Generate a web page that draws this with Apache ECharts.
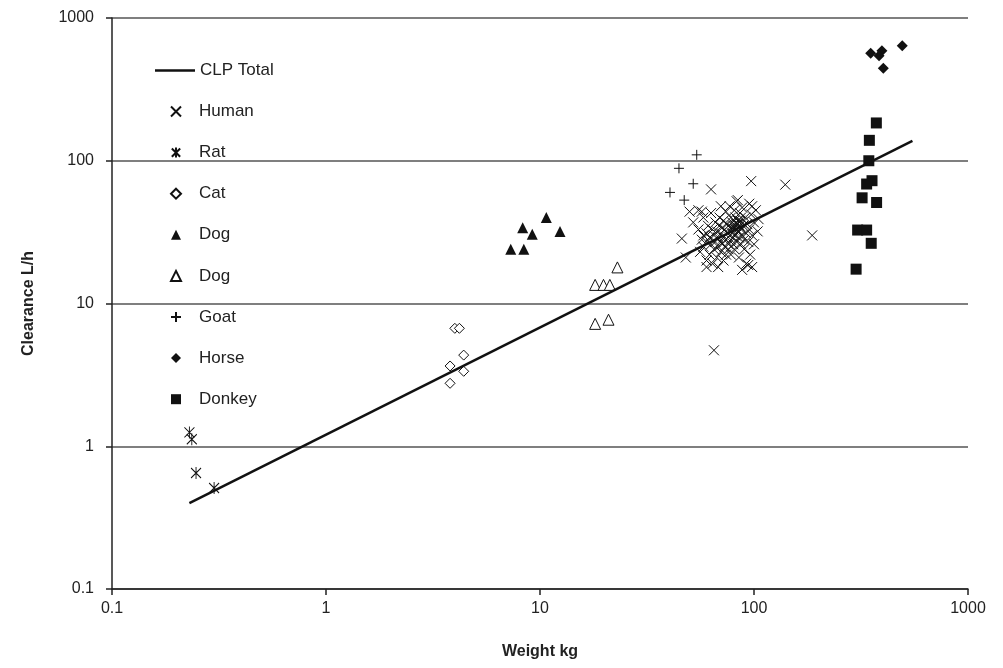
<!DOCTYPE html>
<html>
<head>
<meta charset="utf-8">
<script src="https://cdn.jsdelivr.net/npm/echarts@6/dist/echarts.min.js"></script>
<style>
html,body{margin:0;padding:0;background:#fff;}
#chart{width:1003px;height:668px;}
</style>
</head>
<body>
<div id="chart"></div>
<script>
// ---- data: [weight kg, clearance L/h] ----
var clpTotal = [[0.23, 0.40], [550, 138]];
var human = [
  [46,28.5],[48,21],[50,44],[52,37],[55,45],[58,30],[63,63],[97,72],[140,68],[187,30],[65,4.7],
  [55,33],[57,28],[58,25],[60,27],[60,31],[61,35],[62,22],[62,29],[63,26],[64,33],[64,19],
  [65,24],[65,30],[66,37],[66,27],[67,21],[67,32],[68,25],[68,29],[69,35],[69,40],[70,23],
  [70,27],[70,31],[71,26],[71,34],[72,20],[72,29],[72,38],[73,25],[73,33],[74,22],[74,28],
  [74,44],[75,31],[75,36],[76,26],[76,24],[77,30],[77,34],[77,48],[78,28],[78,22],[78,40],
  [79,31],[79,37],[80,26],[80,33],[80,29],[81,45],[81,24],[82,35],[82,30],[82,40],[83,27],
  [83,52],[84,32],[84,36],[85,21],[85,29],[86,38],[86,43],[87,26],[87,33],[88,30],[88,47],
  [89,35],[90,24],[90,28],[91,40],[92,31],[92,19],[93,36],[94,27],[95,50],[95,33],[96,22],
  [97,42],[98,30],[98,18],[100,37],[100,26],[102,45],[104,32],[105,39],[60,20],[68,18],
  [58,40],[63,43],[56,23],[88,17.2],[94,18.6],[60,18],[84,53],[70,48],[57,44],[98,48],
  [80,35],[82,33],[84,38],[86,35],[85,32],[83,36],[88,37],[87,40],[81,38],[79,34]
];
var rat = [[0.23,1.25],[0.236,1.12],[0.247,0.65],[0.30,0.51]];
var cat = [[4.0,6.7],[4.2,6.7],[4.4,4.35],[3.8,3.65],[4.4,3.35],[3.8,2.76]];
var dogFilled = [[7.3,24],[8.4,24],[8.3,34],[9.2,30.5],[10.7,40],[12.4,32]];
var dogOpen = [[18.1,13.5],[19.8,13.5],[21.2,13.5],[23.0,17.9],[18.1,7.2],[20.9,7.7]];
var goat = [[54,110],[44.6,88.5],[52,69],[40.5,60],[47.2,53]];
var horse = [[351,566],[396,590],[384,545],[402,444],[493,640]];
var donkey = [[373,184],[346,139],[344,100],[356,72.5],[336,68.7],[320,55],[374,51],
  [305,32.7],[336,32.7],[353,26.4],[300,17.4]];
var tickLabels = ['0.1','1','10','100','1000'];
var markerNames = ['Human','Rat','Cat','Dog','Dog ','Goat','Horse','Donkey'];

var FONT = '"Liberation Sans", Arial, Helvetica, sans-serif';
var crossPath = 'path://M0,0L10,10M10,0L0,10';
var starPath = 'path://M0,0L10,10M10,0L0,10M5,-1L5,11';
var plusPath = 'path://M5,0L5,10M0,5L10,5';

function fmt(v){
  for (var i=0;i<tickLabels.length;i++){ if (Math.abs(Math.log10(v) - (i-1)) < 1e-6) return tickLabels[i]; }
  return '';
}

var chart = echarts.init(document.getElementById('chart'), null, {renderer:'canvas'});
var strokeStyle = {color:'transparent', borderColor:'#111', borderWidth:1, opacity:1};
var openStyle = {color:'#fff', borderColor:'#111', borderWidth:1, opacity:1};
var fillStyle = {color:'#111', opacity:1};
var legendText = {fontSize:17, color:'#222', fontFamily:FONT};

chart.setOption({
  animation:false,
  backgroundColor:'#fff',
  textStyle:{fontFamily:FONT},
  grid:{left:112, right:35, top:18, bottom:79},
  legend:[
    {
      left:150, top:57, orient:'vertical',
      itemWidth:40, itemHeight:2.5,
      textStyle:legendText,
      data:[{name:'CLP Total', icon:'rect'}]
    },
    {
      left:165, top:98, orient:'vertical',
      itemWidth:10, itemHeight:10, itemGap:24.1,
      textStyle:{fontSize:17, color:'#222', fontFamily:FONT, padding:[0,0,0,13]},
      data:markerNames
    }
  ],
  xAxis:{
    type:'log', logBase:10, min:0.1, max:1000,
    name:'Weight kg', nameLocation:'middle', nameGap:55,
    nameTextStyle:{fontSize:16, fontWeight:'bold', color:'#222', fontFamily:FONT},
    axisLine:{show:true, lineStyle:{color:'#222', width:1.5}},
    axisTick:{show:true, length:6, lineStyle:{color:'#222', width:1.5}},
    axisLabel:{fontSize:16, color:'#222', margin:12, formatter:fmt, fontFamily:FONT},
    splitLine:{show:false}, minorTick:{show:false}
  },
  yAxis:{
    type:'log', logBase:10, min:0.1, max:1000,
    name:'Clearance L/h', nameLocation:'middle', nameGap:75, nameRotate:90,
    nameTextStyle:{fontSize:16, fontWeight:'bold', color:'#222', fontFamily:FONT},
    axisLine:{show:true, lineStyle:{color:'#222', width:1.5}},
    axisTick:{show:true, length:6, lineStyle:{color:'#222', width:1.5}},
    axisLabel:{fontSize:16, color:'#222', margin:18, formatter:fmt, fontFamily:FONT},
    splitLine:{show:true, lineStyle:{color:'#555', width:1.5}}
  },
  series:[
    {name:'Human', type:'scatter', data:human, symbol:crossPath, symbolSize:10, itemStyle:strokeStyle, z:2},
    {name:'Rat', type:'scatter', data:rat, symbol:starPath, symbolSize:[10,12], itemStyle:strokeStyle, z:2},
    {name:'Cat', type:'scatter', data:cat, symbol:'diamond', symbolSize:10, itemStyle:openStyle, z:2},
    {name:'Dog', type:'scatter', data:dogFilled, symbol:'triangle', symbolSize:11, itemStyle:fillStyle, z:2},
    {name:'Dog ', type:'scatter', data:dogOpen, symbol:'triangle', symbolSize:11, itemStyle:openStyle, z:2},
    {name:'Goat', type:'scatter', data:goat, symbol:plusPath, symbolSize:10, itemStyle:strokeStyle, z:2},
    {name:'Horse', type:'scatter', data:horse, symbol:'diamond', symbolSize:11, itemStyle:fillStyle, z:2},
    {name:'Donkey', type:'scatter', data:donkey, symbol:'rect', symbolSize:11, itemStyle:fillStyle, z:2},
    {name:'CLP Total', type:'line', data:clpTotal, symbol:'none', showSymbol:false,
     lineStyle:{color:'#111', width:2.5}, itemStyle:{color:'#111'}, z:5}
  ]
});
</script>
</body>
</html>
